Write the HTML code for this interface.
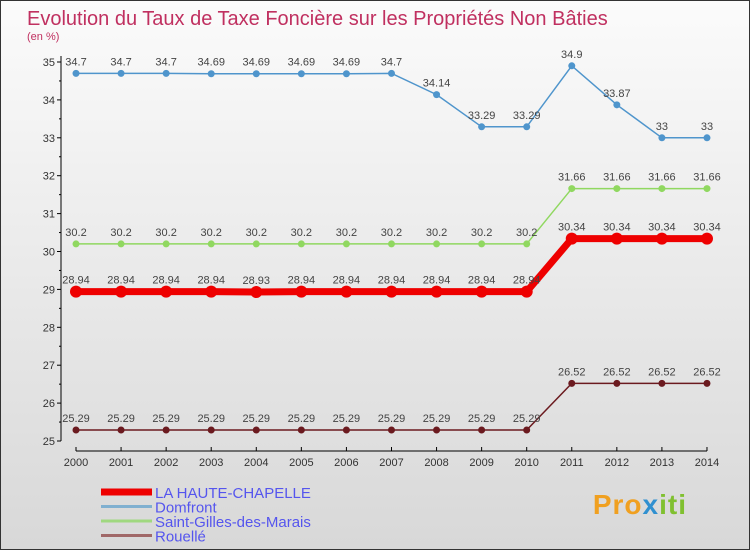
<!DOCTYPE html>
<html><head><meta charset="utf-8"><style>
body{margin:0;}
#wrap{width:748px;height:548px;border:1px solid #333;background:linear-gradient(#fbfbfb,#d8d8d8);position:relative;font-family:"Liberation Sans",sans-serif;overflow:hidden}
svg text{font-family:"Liberation Sans",sans-serif}
</style></head><body>
<div id="wrap">
<svg id="c" width="748" height="548">
<text x="26" y="24" font-size="20" fill="#c03060">Evolution du Taux de Taxe Foncière sur les Propriétés Non Bâties</text>
<text x="26" y="39" font-size="11" fill="#c03060">(en %)</text>
<g id="g"></g>
</svg>
<div style="position:absolute;right:62px;top:488px;font-size:28px;font-weight:bold;letter-spacing:1px"><span style="color:#f0a020">Pro</span><span style="color:#3090d0">x</span><span style="color:#80c030">iti</span></div>
</div>
<script>
const years=[2000,2001,2002,2003,2004,2005,2006,2007,2008,2009,2010,2011,2012,2013,2014];
const yTicks=[25,26,27,28,29,30,31,32,33,34,35];
const haute=[28.94,28.94,28.94,28.94,28.93,28.94,28.94,28.94,28.94,28.94,28.94,30.34,30.34,30.34,30.34];
const domfront=[34.7,34.7,34.7,34.69,34.69,34.69,34.69,34.7,34.14,33.29,33.29,34.9,33.87,33,33];
const stgilles=[30.2,30.2,30.2,30.2,30.2,30.2,30.2,30.2,30.2,30.2,30.2,31.66,31.66,31.66,31.66];
const rouelle=[25.29,25.29,25.29,25.29,25.29,25.29,25.29,25.29,25.29,25.29,25.29,26.52,26.52,26.52,26.52];
const seriesNames=["LA HAUTE-CHAPELLE","Domfront","Saint-Gilles-des-Marais","Rouellé"];
const ns="http://www.w3.org/2000/svg";
const g=document.getElementById('g');
const X=i=>75+i*45.07;
const Y=v=>440-(v-25)*37.9;
function el(t,a,name){const e=document.createElementNS(ns,t);for(const k in a)e.setAttribute(k,a[k]);


g.appendChild(e);return e;}
el('line',{x1:60,y1:55,x2:60,y2:440,stroke:'#000'},'y-axis');
el('line',{x1:75,y1:450,x2:706,y2:450,stroke:'#000'},'x-axis');
yTicks.forEach(v=>{el('line',{x1:56,y1:Y(v),x2:60,y2:Y(v),stroke:'#000'},'y-tick');
if(v<35)el('line',{x1:58,y1:Y(v+0.5),x2:60,y2:Y(v+0.5),stroke:'#000'},'y-minor-tick');
const t=el('text',{x:54,y:Y(v)+4,'font-size':11,fill:'#333','text-anchor':'end'},'y-tick-label');t.textContent=v;});
years.forEach((yr,i)=>{el('line',{x1:X(i),y1:446,x2:X(i),y2:450,stroke:'#000'},'x-tick');
const t=el('text',{x:X(i),y:465,'font-size':11,fill:'#333','text-anchor':'middle'},'x-tick-label');t.textContent=yr;});
function series(d,col,w,r,name){
el('polyline',{points:d.map((v,i)=>X(i)+','+Y(v)).join(' '),fill:'none',stroke:col,'stroke-width':w},name+'-line');
d.forEach((v,i)=>{el('circle',{cx:X(i),cy:Y(v),r:r,fill:col},name+'-point');
const t=el('text',{x:X(i),y:Y(v)-8,'font-size':11,fill:'#444','text-anchor':'middle'},name+'-value-label');t.textContent=v;});}
series(rouelle,'#6b1a1f',1.5,3.5,'rouelle');
series(stgilles,'#90d860',1.5,3.5,'saint-gilles');
series(domfront,'#4f95cc',1.5,3.5,'domfront');
series(haute,'#ee0000',7,6,'haute-chapelle');
const cols=['#ee0000','#80b0d0','#a0d880','#a06868'],ws=[7,3,3,3];
seriesNames.forEach((n,i)=>{const y=491+i*14.5;
el('line',{x1:100,y1:y,x2:151,y2:y,stroke:cols[i],'stroke-width':ws[i]},'legend-swatch');
const t=el('text',{x:154,y:y+6,'font-size':15,fill:'#5555ee'},'legend-entry');t.textContent=n;});
</script>
</body></html>
